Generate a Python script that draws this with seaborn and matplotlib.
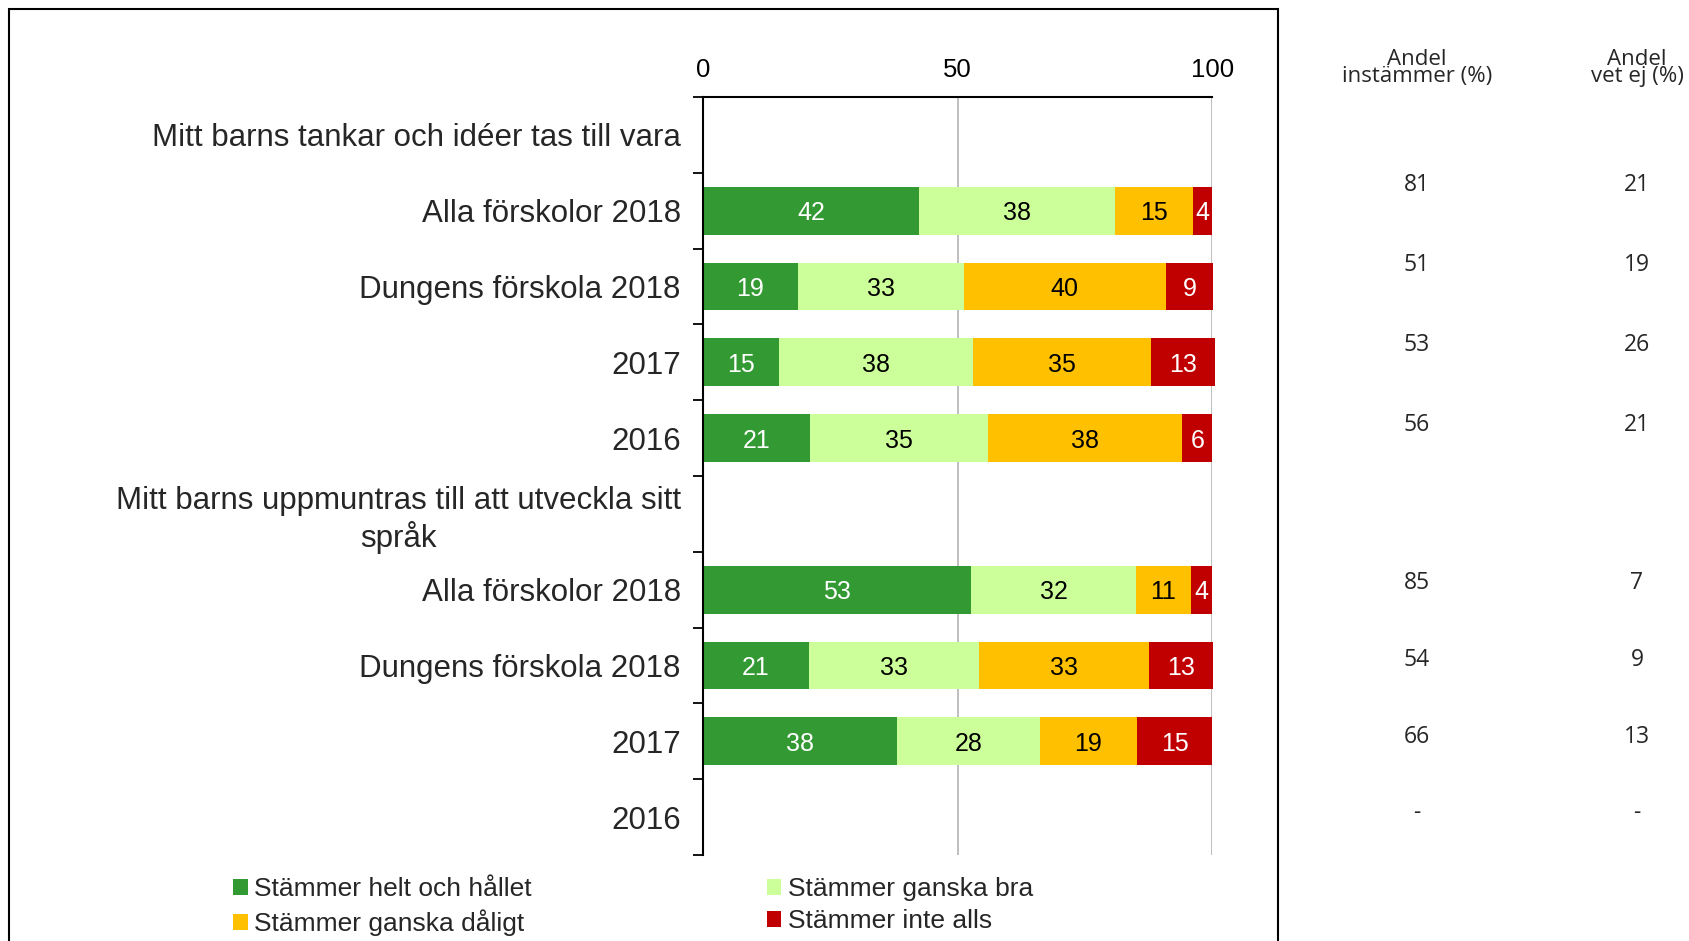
import numpy as np
import pandas as pd
import matplotlib
matplotlib.use("Agg")
import matplotlib.pyplot as plt
from matplotlib.patches import Rectangle, Patch
import seaborn as sns

# ---------------- data ----------------
row_labels = [
    "Mitt barns tankar och idéer tas till vara",
    "Alla förskolor 2018",
    "Dungens förskola 2018",
    "2017",
    "2016",
    "Mitt barns uppmuntras till att utveckla sitt\nspråk",
    "Alla förskolor 2018",
    "Dungens förskola 2018",
    "2017",
    "2016",
]
series_names = ["Stämmer helt och hållet", "Stämmer ganska bra",
                "Stämmer ganska dåligt", "Stämmer inte alls"]
nan = np.nan
helt = [nan, 42.4, 18.6, 15.0, 21.0, nan, 52.6, 20.8, 38.1, nan]
bra = [nan, 38.4, 32.6, 37.9, 35.0, nan, 32.4, 33.3, 28.0, nan]
daligt = [nan, 15.3, 39.6, 35.0, 38.0, nan, 10.7, 33.4, 19.0, nan]
inte = [nan, 3.9, 9.3, 12.6, 6.0, nan, 4.3, 12.6, 14.9, nan]
andel_instammer = ["", "81", "51", "53", "56", "", "85", "54", "66", "-"]
andel_vet_ej = ["", "21", "19", "26", "21", "", "7", "9", "13", "-"]
col_headers = ["Andel\ninstämmer (%)", "Andel\nvet ej (%)"]
x_ticks = [0, 50, 100]

colors = ["#339933", "#CCFF99", "#FFC000", "#C00000"]
text_colors = ["white", "black", "black", "white"]

# ---------------- style ----------------
sns.set_theme(style="white")
plt.rcParams["font.family"] = ["Liberation Sans", "DejaVu Sans"]

W, H = 1690, 941
fig = plt.figure(figsize=(W / 100, H / 100), dpi=100)


def fx(px):
    return px / W


def fy(py):
    return 1 - py / H


ax = fig.add_axes([fx(703), fy(855), (1212.5 - 703) / W, (855 - 97) / H])

series = [helt, bra, daligt, inte]
row_ids = [f"r{i}" for i in range(len(row_labels))]
df = pd.DataFrame({"row": row_ids})
cum = np.zeros(len(row_labels))
for i, s in enumerate(series):
    cum = cum + np.array(s, dtype=float)
    df[f"cum{i}"] = cum

# draw cumulative bars from the longest to the shortest
for i in reversed(range(len(series))):
    sns.barplot(data=df, x=f"cum{i}", y="row", order=row_ids, orient="y",
                color=colors[i], saturation=1, width=0.63, linewidth=0,
                errorbar=None, ax=ax, zorder=3)
for p in ax.patches:
    p.set_clip_on(False)

# value labels
for r in range(len(row_labels)):
    start = 0.0
    for i, s in enumerate(series):
        v = s[r]
        if np.isnan(v):
            continue
        ax.text(start + v / 2, r, str(int(round(v))), ha="center",
                va="center_baseline", fontsize=18, color=text_colors[i], zorder=5)
        start += v

# axes formatting
ax.set_xlim(0, 100)
ax.set_ylim(len(row_labels) - 0.5, -0.5)
ax.xaxis.tick_top()
ax.set_xticks(x_ticks)
ax.set_xticklabels([str(t) for t in x_ticks])
ax.tick_params(axis="x", length=0, pad=11, labelsize=18.5, colors="black")
ax.set_yticks(range(len(row_labels)))
ax.set_yticklabels(row_labels)
ax.tick_params(axis="y", which="major", length=0, pad=16, labelsize=22.5)
for lab in ax.get_yticklabels():
    lab.set_multialignment("center")
ax.set_yticks(np.arange(-0.5, len(row_labels), 1), minor=True)
ax.tick_params(axis="y", which="minor", length=7, width=1.3, color="black", left=True)
ax.set_xlabel("")
ax.set_ylabel("")
ax.grid(axis="x", color="#BFBFBF", linewidth=1.4, zorder=0)
ax.grid(axis="y", visible=False)
ax.set_axisbelow(True)
for side in ["right", "bottom"]:
    ax.spines[side].set_visible(False)
for side in ["top", "left"]:
    ax.spines[side].set_visible(True)
    ax.spines[side].set_color("black")
    ax.spines[side].set_linewidth(1.5)
    ax.spines[side].set_zorder(6)

# right-hand columns
col_font = ["Open Sans", "DejaVu Sans"]
col_x = [1417, 1637]
for xc, head in zip(col_x, col_headers):
    fig.text(fx(xc), fy(68), head, ha="center", va="center", fontsize=16,
             family=col_font, linespacing=0.78, multialignment="center")
col_y = [None, 185, 265, 345, 425, None, 583, 660, 737, 813]
for r, yy in enumerate(col_y):
    if yy is None:
        continue
    fig.text(fx(col_x[0]), fy(yy), andel_instammer[r], ha="center", va="center",
             fontsize=16.5, family=col_font)
    fig.text(fx(col_x[1]), fy(yy), andel_vet_ej[r], ha="center", va="center",
             fontsize=16.5, family=col_font)

# legend (column-wise fill: helt, dåligt | bra, inte alls)
order = [0, 2, 1, 3]
handles = [Patch(facecolor=colors[i], edgecolor="none") for i in order]
labels = [series_names[i] for i in order]
fig.legend(handles, labels, ncol=2, loc="upper left",
           bbox_to_anchor=(fx(233), fy(877)), frameon=False, fontsize=19,
           handlelength=0.55, handleheight=0.55, handletextpad=0.25,
           columnspacing=8.9, labelspacing=0.32, borderpad=0, borderaxespad=0)

# outer frame (bottom edge lies outside the picture)
fig.add_artist(Rectangle((fx(9), fy(960)), (1278 - 9) / W, (960 - 9) / H,
                         transform=fig.transFigure, fill=False,
                         edgecolor="black", linewidth=1.5, clip_on=False))

fig.savefig("out.png", dpi=100)
